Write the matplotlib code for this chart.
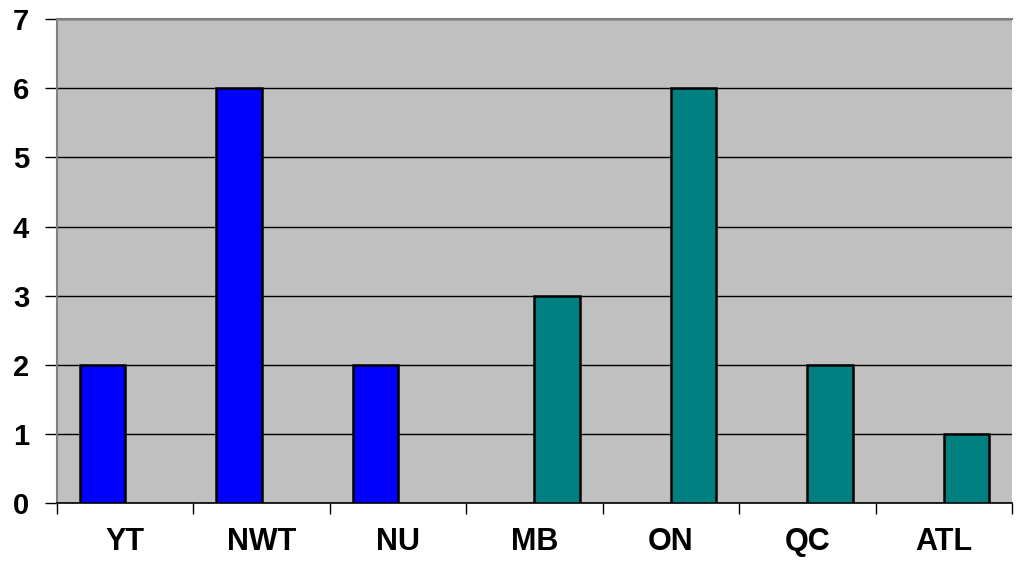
import numpy as np
import matplotlib.pyplot as plt
from matplotlib.ticker import FixedLocator

regions = ['YT', 'NWT', 'NU', 'MB', 'ON', 'QC', 'ATL']
territories = [2, 6, 2, 0, 0, 0, 0]
provinces = [0, 0, 0, 3, 6, 2, 1]

plt.rcParams['font.family'] = ['Liberation Sans', 'DejaVu Sans']

fig = plt.figure(figsize=(10.16, 5.63), dpi=100)
ax = fig.add_axes([0.0561, 0.1066, 0.9399, 0.8594])
ax.set_facecolor('#C0C0C0')

x = np.arange(len(regions))
w = 1 / 3


def draw(offset, values, color):
    # skip empty entries so no outline shows on the baseline
    vals = np.array(values, dtype=float)
    keep = vals > 0
    ax.bar(x[keep] + offset, vals[keep], width=w, color=color,
           edgecolor='black', linewidth=1.8, zorder=3)


draw(-w / 2, territories, '#0000FF')
draw(w / 2, provinces, '#008080')

ax.set_xlim(-0.5, len(regions) - 0.5)
ax.set_ylim(0, 7)
ax.set_yticks(range(8))
ax.yaxis.grid(True, color='black', linewidth=1.0, zorder=1)
ax.set_axisbelow(True)

ax.set_xticks(x)
ax.set_xticklabels(regions, fontsize=22, fontweight='bold')
ax.tick_params(axis='x', length=0, pad=17)
ax.xaxis.set_minor_locator(FixedLocator(np.arange(-0.5, len(regions), 1)))
ax.tick_params(axis='x', which='minor', length=8, width=1, color='black')
ax.tick_params(axis='y', length=9, width=1, pad=11, labelsize=21)
for lab in ax.get_yticklabels():
    lab.set_fontweight('bold')

for side in ['left', 'top']:
    ax.spines[side].set_color('#808080')
    ax.spines[side].set_linewidth(1.5)
ax.spines['right'].set_visible(False)
ax.spines['bottom'].set_color('black')
ax.spines['bottom'].set_linewidth(1.2)

fig.savefig('out.png', dpi=100)
